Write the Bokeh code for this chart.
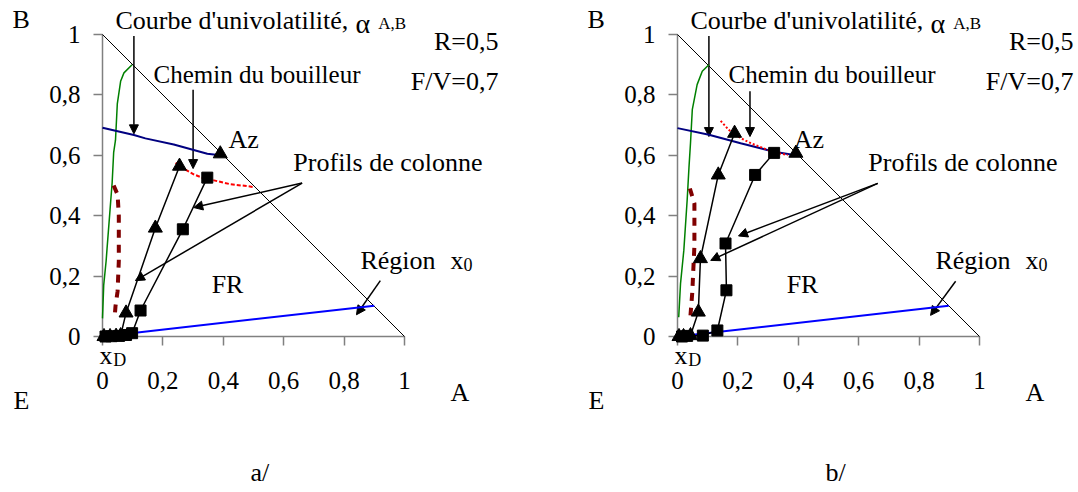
from bokeh.plotting import figure
from bokeh.layouts import row
from bokeh.models import Range1d, FixedTicker, Arrow, NormalHead
from bokeh.core.properties import value
from bokeh.embed import file_html
from bokeh.resources import INLINE

FONT = "Liberation Serif"

# ---------------- data ----------------
tick_values = [0, 0.2, 0.4, 0.6, 0.8, 1]
tick_labels = ["0", "0,2", "0,4", "0,6", "0,8", "1"]

edge_x = [0, 1]
edge_y = [1, 0]

# panel a/
green_a_x = [0.0, 0.004, 0.012, 0.015, 0.025, 0.032, 0.037, 0.043, 0.049, 0.06, 0.071, 0.098]
green_a_y = [0.06, 0.17, 0.25, 0.29, 0.42, 0.51, 0.61, 0.65, 0.77, 0.845, 0.873, 0.90]
navy_a_x = [0.0, 0.104, 0.142, 0.236, 0.347, 0.39]
navy_a_y = [0.691, 0.667, 0.656, 0.636, 0.605, 0.60]
x0_a_x = [0.0, 0.90]
x0_a_y = [0.0, 0.102]
boiler_a_x = [0.242, 0.27, 0.302, 0.34, 0.369, 0.424, 0.47, 0.50]
boiler_a_y = [0.575, 0.555, 0.537, 0.522, 0.517, 0.504, 0.499, 0.495]
maroon_a_x = [0.037, 0.05, 0.054, 0.054, 0.05, 0.043, 0.04]
maroon_a_y = [0.50, 0.47, 0.40, 0.25, 0.15, 0.10, 0.06]
tri_a_x = [0.005, 0.025, 0.045, 0.06, 0.078, 0.175, 0.255]
tri_a_y = [0.0, 0.0, 0.001, 0.003, 0.078, 0.359, 0.564]
sq_a_x = [0.01, 0.03, 0.055, 0.078, 0.098, 0.126, 0.266, 0.347]
sq_a_y = [0.0, 0.001, 0.002, 0.005, 0.011, 0.086, 0.355, 0.526]
az_a_x = [0.39]
az_a_y = [0.605]

# panel b/
green_b_x = [0.004, 0.01, 0.021, 0.032, 0.038, 0.043, 0.049, 0.065, 0.082, 0.104]
green_b_y = [0.064, 0.175, 0.286, 0.452, 0.56, 0.64, 0.751, 0.834, 0.878, 0.90]
navy_b_x = [0.0, 0.104, 0.209, 0.32, 0.386]
navy_b_y = [0.69, 0.668, 0.64, 0.612, 0.601]
x0_b_x = [0.0, 0.898]
x0_b_y = [0.0, 0.102]
boiler_b_x = [0.143, 0.17, 0.209, 0.243, 0.298, 0.335, 0.365]
boiler_b_y = [0.714, 0.684, 0.657, 0.64, 0.618, 0.607, 0.601]
maroon_b_x = [0.041, 0.056, 0.056, 0.049, 0.043]
maroon_b_y = [0.49, 0.44, 0.30, 0.147, 0.07]
tri_b_x = [0.005, 0.02, 0.043, 0.069, 0.076, 0.135, 0.189]
tri_b_y = [0.0, 0.0, 0.003, 0.081, 0.258, 0.535, 0.673]
sq_b_x = [0.015, 0.032, 0.084, 0.132, 0.162, 0.159, 0.257, 0.32]
sq_b_y = [0.0, 0.002, 0.003, 0.02, 0.153, 0.308, 0.535, 0.608]
az_b_x = [0.392]
az_b_y = [0.607]

overrides = {v: s for v, s in zip(tick_values, tick_labels)}

DY = 0.027  # small upward nudge so the text baselines land where the reference has them


def lab(p, x, y, text, size="26px", align="left"):
    p.text([x], [y + DY], text=[text], text_font=value(FONT), text_font_size=value(size),
           text_color="black", text_align=align, text_baseline="alphabetic", level="overlay")


def arrow(p, xs, ys, xe, ye):
    p.add_layout(Arrow(end=NormalHead(size=9, fill_color="black", line_color="black", line_width=1),
                       x_start=xs, y_start=ys, x_end=xe, y_end=ye,
                       line_color="black", line_width=1.5))


def panel(width, right, d, arrows, az_pos, tag):
    p = figure(width=width, height=492, x_range=Range1d(0, 1), y_range=Range1d(0, 1),
               output_backend="svg", toolbar_location=None,
               min_border_left=102, min_border_right=right, min_border_top=34, min_border_bottom=156)
    p.grid.visible = False
    p.outline_line_color = None
    p.background_fill_color = "white"
    p.border_fill_color = "white"
    for ax in (p.xaxis[0], p.yaxis[0]):
        ax.ticker = FixedTicker(ticks=tick_values)
        ax.major_label_overrides = overrides
        ax.minor_tick_line_color = None
        ax.major_tick_in = 0
        ax.major_tick_out = 9
        ax.axis_line_color = "#808080"
        ax.axis_line_width = 1.5
        ax.major_tick_line_color = "#808080"
        ax.major_tick_line_width = 1.5
        ax.major_label_text_font = FONT
        ax.major_label_text_font_size = "25px"
        ax.major_label_text_color = "black"
    p.xaxis.major_label_standoff = 26
    p.yaxis.major_label_standoff = 13

    kw = dict(level="overlay")
    p.line(edge_x, edge_y, line_color="black", line_width=1, **kw)
    p.line(d["x0x"], d["x0y"], line_color="#0000FF", line_width=2, **kw)
    p.line(d["gx"], d["gy"], line_color="#008000", line_width=1.5, **kw)
    p.line(d["nx"], d["ny"], line_color="#000080", line_width=2, **kw)
    p.line(d["mx"], d["my"], line_color="#800000", line_width=4, line_dash="8 7", **kw)
    p.line(d["bx"], d["by"], line_color="#FF0000", line_width=2, line_dash=d["bdash"], **kw)
    p.line(d["tx"], d["ty"], line_color="black", line_width=1.5, **kw)
    p.line(d["sx"], d["sy"], line_color="black", line_width=1.5, **kw)
    p.scatter(d["tx"], d["ty"], marker="triangle", size=14, color="black", **kw)
    p.scatter(d["sx"], d["sy"], marker="square", size=11, color="black", **kw)
    p.scatter(d["ax"], d["ay"], marker="triangle", size=14, color="black", **kw)

    lab(p, -0.298, 1.023, "B")
    lab(p, -0.295, -0.238, "E")
    lab(p, 1.152, -0.212, "A")
    lab(p, 0.043, 1.02, "Courbe d'univolatilité,")
    lab(p, 0.838, 1.008, "α", size="28px")
    lab(p, 0.913, 1.008, "A,B", size="17px")
    lab(p, 1.311, 0.950, "R=0,5", align="right")
    lab(p, 1.311, 0.818, "F/V=0,7", align="right")
    lab(p, 0.169, 0.841, "Chemin du bouilleur", size="25px")
    lab(p, az_pos, 0.626, "Az")
    lab(p, 0.632, 0.55, "Profils de colonne")
    lab(p, 0.414, 0.146, "FR", align="center")
    lab(p, 0.854, 0.225, "Région")
    lab(p, 1.152, 0.225, "x")
    lab(p, 1.195, 0.212, "0", size="18px")
    lab(p, -0.01, -0.089, "x")
    lab(p, 0.036, -0.106, "D", size="18px")
    lab(p, 0.49, -0.478, tag)

    for a in arrows:
        arrow(p, *a)
    return p


da = dict(x0x=x0_a_x, x0y=x0_a_y, gx=green_a_x, gy=green_a_y, nx=navy_a_x, ny=navy_a_y,
          mx=maroon_a_x, my=maroon_a_y, bx=boiler_a_x, by=boiler_a_y, bdash="4 2",
          tx=tri_a_x, ty=tri_a_y, sx=sq_a_x, sy=sq_a_y, ax=az_a_x, ay=az_a_y)
db = dict(x0x=x0_b_x, x0y=x0_b_y, gx=green_b_x, gy=green_b_y, nx=navy_b_x, ny=navy_b_y,
          mx=maroon_b_x, my=maroon_b_y, bx=boiler_b_x, by=boiler_b_y, bdash="2 2",
          tx=tri_b_x, ty=tri_b_y, sx=sq_b_x, sy=sq_b_y, ax=az_b_x, ay=az_b_y)

arrows_a = [(0.104, 0.995, 0.104, 0.671), (0.30, 0.817, 0.30, 0.556),
            (0.661, 0.508, 0.302, 0.427), (0.661, 0.508, 0.109, 0.185),
            (0.92, 0.185, 0.841, 0.072)]
arrows_b = [(0.104, 0.995, 0.104, 0.662), (0.24, 0.812, 0.24, 0.662),
            (0.663, 0.507, 0.202, 0.333), (0.663, 0.507, 0.11, 0.252),
            (0.921, 0.183, 0.838, 0.07)]

pa = panel(575, 171, da, arrows_a, 0.417, "a/")
pb = panel(503, 99, db, arrows_b, 0.385, "b/")

layout = row(pa, pb)
open("out.html", "w").write(file_html(layout, INLINE))
